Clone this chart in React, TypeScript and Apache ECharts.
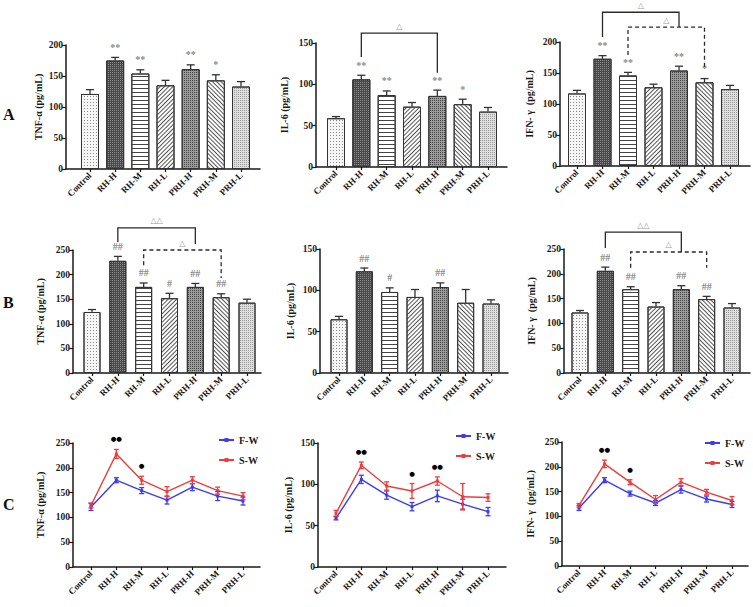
import React, { useEffect, useRef } from 'react';
import * as echarts from 'echarts';

const categories = ['Control', 'RH-H', 'RH-M', 'RH-L', 'PRH-H', 'PRH-M', 'PRH-L'];

// Row A : F-W
const tnfA = [121, 175, 154, 135, 161, 143, 133];
const tnfAErr = [7, 5, 6, 8, 7, 9, 8];
const il6A = [59, 106, 87, 73, 86, 76, 67];
const il6AErr = [2, 5, 5, 5, 7, 6, 5];
const ifnA = [117, 173, 146, 127, 154, 135, 124];
const ifnAErr = [5, 5, 5, 5, 7, 6, 6];

// Row B : S-W
const tnfB = [124, 228, 175, 152, 175, 154, 143];
const tnfBErr = [5, 9, 8, 10, 7, 7, 7];
const il6B = [65, 123, 98, 92, 104, 85, 84];
const il6BErr = [3.5, 4, 5, 9, 5, 16, 4.5];
const ifnB = [122, 206, 169, 134, 169, 149, 132];
const ifnBErr = [4, 7.5, 5, 8, 7, 5.5, 8];

// significance marks
const sigA = ['', '**', '**', '', '**', '*', ''];
const sigBtnf = ['', '##', '##', '#', '##', '##', ''];
const sigBil6 = ['', '##', '#', '', '##', '', ''];
const sigBifn = ['', '##', '##', '', '##', '##', ''];
const sigCtnf = ['', '●●', '●', '', '', '', ''];
const sigCil6 = ['', '●●', '', '●', '●●', '', ''];
const sigCifn = ['', '●●', '●', '', '', '', ''];

// comparison brackets (category index, values in data units)
const bracketsAil6 = [{ from: 1, to: 4, top: 162, left: 133, right: 114, dashed: false, label: '△' }];
const bracketsAifn = [
  { from: 1, to: 4, top: 248, left: 208, right: 224, dashed: false, label: '△' },
  { from: 2, to: 5, top: 224, left: 179, right: 158, dashed: true, label: '△' },
];
const bracketsBtnf = [
  { from: 1, to: 4, top: 295, left: 266, right: 262, dashed: false, label: '△△' },
  { from: 2, to: 5, top: 250, left: 219, right: 193, dashed: true, label: '△' },
];
const bracketsBifn = [
  { from: 1, to: 4, top: 284, left: 252, right: 244, dashed: false, label: '△△' },
  { from: 2, to: 5, top: 244, left: 212, right: 212, dashed: true, label: '△' },
];

const yMaxes = [200, 150, 200, 250, 150, 250, 250, 150, 250];
const yNames = ['TNF-α (pg/mL)', 'IL-6 (pg/mL)', 'IFN- γ  (pg/mL)'];

// layout (pixels)
const layout = [
  { axisX: 66, ctrlX: 90, lastX: 241, endX: 260, topY: 45, botY: 169, nameGap: 23 },
  { axisX: 316, ctrlX: 336, lastX: 488, endX: 507, topY: 43, botY: 167, nameGap: 27 },
  { axisX: 560, ctrlX: 577, lastX: 730, endX: 750, topY: 42, botY: 166, nameGap: 26 },
  { axisX: 73, ctrlX: 92, lastX: 247, endX: 261, topY: 250, botY: 373, nameGap: 28 },
  { axisX: 320, ctrlX: 339, lastX: 491, endX: 508, topY: 249, botY: 373, nameGap: 25 },
  { axisX: 564, ctrlX: 580, lastX: 732, endX: 750, topY: 249, botY: 373, nameGap: 28 },
  { axisX: 73, ctrlX: 91, lastX: 243, endX: 260, topY: 443, botY: 567, nameGap: 28 },
  { axisX: 318, ctrlX: 336, lastX: 488, endX: 506, topY: 443, botY: 567, nameGap: 25 },
  { axisX: 562, ctrlX: 579, lastX: 732, endX: 748, topY: 442, botY: 566, nameGap: 27 },
];

const SERIF = '"Liberation Serif", "Times New Roman", serif';
const AXIS = '#1a1a1a';
const BLUE = '#3c3cf2';
const RED = '#f03c3c';

const barFills = ['#f6f6f6', '#4a4a4a', '#ffffff', '#ffffff', '#9c9c9c', '#ffffff', '#dedede'];
const barDecals: any[] = [
  { symbol: 'rect', symbolSize: 1, dashArrayX: [1, 2], dashArrayY: [1, 2], color: '#8c8c8c' },
  { symbol: 'rect', symbolSize: 1, dashArrayX: [1, 1], dashArrayY: [1, 1], color: '#8a8a8a' },
  { symbol: 'rect', symbolSize: 1, dashArrayX: [1, 0], dashArrayY: [1, 3], color: '#444444' },
  { symbol: 'rect', symbolSize: 1, dashArrayX: [1, 0], dashArrayY: [1, 2], rotation: -Math.PI / 4, color: '#555555' },
  { symbol: 'rect', symbolSize: 1, dashArrayX: [1, 1], dashArrayY: [1, 1], color: '#444444' },
  { symbol: 'rect', symbolSize: 1, dashArrayX: [1, 0], dashArrayY: [1, 2], rotation: Math.PI / 4, color: '#555555' },
  { symbol: 'rect', symbolSize: 1, dashArrayX: [1, 1], dashArrayY: [1, 1], color: '#9a9a9a' },
];

function buildOption() {
  const grid: any[] = [];
  const xAxis: any[] = [];
  const yAxis: any[] = [];
  const series: any[] = [];
  const idx = [0, 1, 2, 3, 4, 5, 6];

  layout.forEach((p, g) => {
    const s = (p.lastX - p.ctrlX) / 6;
    grid.push({ left: p.axisX, top: p.topY, width: p.endX - p.axisX, height: p.botY - p.topY });
    xAxis.push({
      type: 'value',
      gridIndex: g,
      min: -(p.ctrlX - p.axisX) / s,
      max: 6 + (p.endX - p.lastX) / s,
      splitLine: { show: false },
      axisLine: { show: true, onZero: false, lineStyle: { color: AXIS, width: 1.5 } },
      axisTick: { show: true, customValues: idx, length: 3, lineStyle: { color: AXIS, width: 1.2 } },
      axisLabel: {
        customValues: idx,
        formatter: (v: number) => categories[Math.round(v)] || '',
        rotate: 45,
        margin: 5,
        fontFamily: SERIF,
        fontWeight: 'bold',
        fontSize: 9,
        color: AXIS,
      },
    });
    yAxis.push({
      type: 'value',
      gridIndex: g,
      min: 0,
      max: yMaxes[g],
      interval: 50,
      splitLine: { show: false },
      axisLine: { show: true, onZero: false, lineStyle: { color: AXIS, width: 1.5 } },
      axisTick: { show: true, length: 4, lineStyle: { color: AXIS, width: 1.2 } },
      axisLabel: { fontFamily: SERIF, fontWeight: 'bold', fontSize: 9.5, color: AXIS, margin: 3 },
      name: yNames[g % 3],
      nameLocation: 'middle',
      nameRotate: 90,
      nameGap: p.nameGap,
      nameTextStyle: { fontFamily: SERIF, fontWeight: 'bold', fontSize: 10, color: AXIS },
    });
  });

  const barSets = [
    { g: 0, v: tnfA, e: tnfAErr, m: sigA, w: 18 },
    { g: 1, v: il6A, e: il6AErr, m: sigA, w: 18 },
    { g: 2, v: ifnA, e: ifnAErr, m: sigA, w: 18 },
    { g: 3, v: tnfB, e: tnfBErr, m: sigBtnf, w: 17 },
    { g: 4, v: il6B, e: il6BErr, m: sigBil6, w: 17 },
    { g: 5, v: ifnB, e: ifnBErr, m: sigBifn, w: 17 },
  ];

  const errorSeries = (g: number, v: number[], e: number[], marks: string[], color: string, both: boolean, markColor: string, markFont: string, markGap: number, capHalf: number) => ({
    type: 'custom',
    xAxisIndex: g,
    yAxisIndex: g,
    z: 5,
    silent: true,
    encode: { x: 0, y: 1 },
    data: v.map((val, i) => [i, val, e[i]]),
    renderItem: (params: any, api: any) => {
      const i = api.value(0);
      const val = api.value(1);
      const err = api.value(2);
      const top = api.coord([i, val + err]);
      const bot = both ? api.coord([i, val - err]) : api.coord([i, val]);
      const st = { stroke: color, lineWidth: 1.3 };
      const children: any[] = [
        { type: 'line', shape: { x1: top[0], y1: top[1], x2: bot[0], y2: bot[1] }, style: st },
        { type: 'line', shape: { x1: top[0] - capHalf, y1: top[1], x2: top[0] + capHalf, y2: top[1] }, style: st },
      ];
      if (both) {
        children.push({ type: 'line', shape: { x1: bot[0] - capHalf, y1: bot[1], x2: bot[0] + capHalf, y2: bot[1] }, style: st });
      }
      const mk = marks[params.dataIndex];
      if (mk) {
        children.push({
          type: 'text',
          x: top[0],
          y: top[1] - markGap,
          style: { text: mk, fill: markColor, font: markFont, align: 'center', verticalAlign: 'middle' },
        });
      }
      return { type: 'group', children };
    },
  });

  barSets.forEach((b) => {
    series.push({
      type: 'bar',
      xAxisIndex: b.g,
      yAxisIndex: b.g,
      barWidth: b.w,
      silent: true,
      data: b.v.map((val, i) => ({
        value: [i, val],
        itemStyle: { color: barFills[i], decal: barDecals[i], borderColor: '#333', borderWidth: 1 },
      })),
    });
    series.push(errorSeries(b.g, b.v, b.e, b.m, '#333', false, '#8a8a8a', 'bold 10px "Liberation Serif", serif', 10, 4));
  });

  const bracketSeries = (g: number, brackets: any[]) => ({
    type: 'custom',
    xAxisIndex: g,
    yAxisIndex: g,
    z: 6,
    silent: true,
    encode: { x: [0, 1], y: [2, 3, 4] },
    data: brackets.map((b) => [b.from, b.to, b.top, b.left, b.right]),
    renderItem: (params: any, api: any) => {
      const b = brackets[params.dataIndex];
      const tl = api.coord([b.from, b.top]);
      const tr = api.coord([b.to, b.top]);
      const l = api.coord([b.from, b.left]);
      const r = api.coord([b.to, b.right]);
      return {
        type: 'group',
        children: [
          {
            type: 'polyline',
            shape: { points: [l, tl, tr, r] },
            style: { stroke: '#2a2a2a', lineWidth: 1.3, fill: null, lineDash: b.dashed ? [4, 3] : null },
          },
          {
            type: 'text',
            x: (tl[0] + tr[0]) / 2,
            y: tl[1] - 7,
            style: { text: b.label, fill: '#9a9a9a', font: '8px "DejaVu Sans", sans-serif', align: 'center', verticalAlign: 'middle' },
          },
        ],
      };
    },
  });
  series.push(bracketSeries(1, bracketsAil6));
  series.push(bracketSeries(2, bracketsAifn));
  series.push(bracketSeries(3, bracketsBtnf));
  series.push(bracketSeries(5, bracketsBifn));

  const lineSets = [
    { g: 6, a: tnfA, ae: tnfAErr, b: tnfB, be: tnfBErr, m: sigCtnf },
    { g: 7, a: il6A, ae: il6AErr, b: il6B, be: il6BErr, m: sigCil6 },
    { g: 8, a: ifnA, ae: ifnAErr, b: ifnB, be: ifnBErr, m: sigCifn },
  ];
  const none = ['', '', '', '', '', '', ''];
  lineSets.forEach((l) => {
    series.push({
      type: 'line', name: 'F-W', xAxisIndex: l.g, yAxisIndex: l.g,
      data: l.a.map((v, i) => [i, v]), color: BLUE, symbol: 'rect', symbolSize: 3,
      lineStyle: { width: 1.4 }, z: 3,
    });
    series.push(errorSeries(l.g, l.a, l.ae, none, BLUE, true, '#000', '', 0, 2.5));
    series.push({
      type: 'line', name: 'S-W', xAxisIndex: l.g, yAxisIndex: l.g,
      data: l.b.map((v, i) => [i, v]), color: RED, symbol: 'rect', symbolSize: 3,
      lineStyle: { width: 1.4 }, z: 4,
    });
    series.push(errorSeries(l.g, l.b, l.be, l.m, RED, true, '#000', '6.5px "DejaVu Sans", sans-serif', 10, 2.5));
  });

  const legendBase = {
    orient: 'vertical',
    data: ['F-W', 'S-W'],
    itemWidth: 15,
    itemHeight: 5,
    itemGap: 10,
    selectedMode: false,
    textStyle: { fontFamily: SERIF, fontWeight: 'bold', fontSize: 10, color: AXIS, padding: [0, 0, 0, 0] },
    padding: 0,
  };
  const legend = [
    { ...legendBase, left: 218, top: 435 },
    { ...legendBase, left: 455, top: 431 },
    { ...legendBase, left: 704, top: 438 },
  ];

  const rowLetter = (t: string, y: number) => ({
    type: 'text', left: 3, top: y,
    style: { text: t, font: 'bold 16px "Liberation Serif", serif', fill: '#111' },
  });

  return {
    animation: false,
    backgroundColor: '#ffffff',
    grid, xAxis, yAxis, series, legend,
    graphic: [rowLetter('A', 106), rowLetter('B', 294), rowLetter('C', 496)],
  };
}

export default function App() {
  const ref = useRef<HTMLDivElement>(null);
  useEffect(() => {
    document.body.style.margin = '0';
    if (!ref.current) return;
    const chart = echarts.init(ref.current, undefined, { renderer: 'svg' });
    chart.setOption(buildOption() as any);
    return () => chart.dispose();
  }, []);
  return <div ref={ref} style={{ width: 753, height: 607 }} />;
}
